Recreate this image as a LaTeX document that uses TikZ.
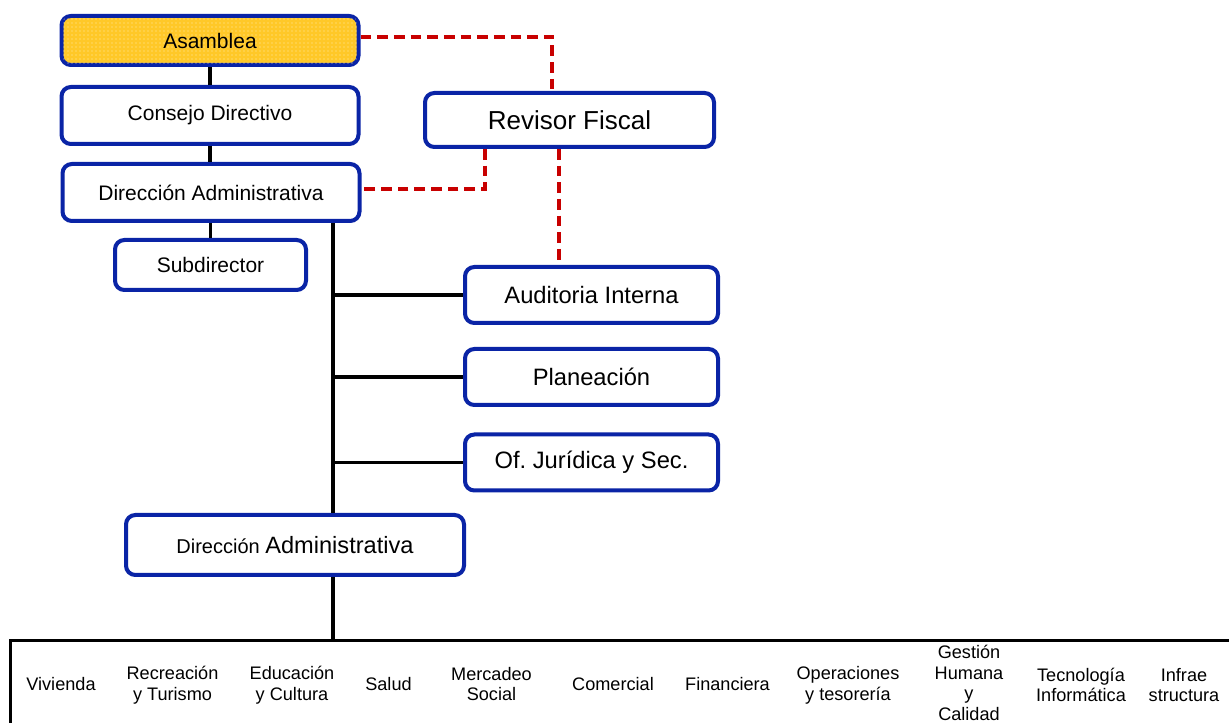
\documentclass[tikz,border=0pt]{standalone}
\usepackage{fontspec}
\setmainfont{Liberation Sans}
\usetikzlibrary{patterns,calc}

\definecolor{boxblue}{RGB}{10,36,166}
\definecolor{linkred}{RGB}{200,0,0}
\definecolor{asmyellow}{RGB}{255,200,40}
\definecolor{asmdot}{RGB}{255,236,170}

\tikzset{
  orgbox/.style={draw=boxblue, line width=3pt, rounded corners=7pt, fill=white,
    inner sep=0pt, align=center, font=\fontsize{15.75}{18}\selectfont},
  leftbox/.style={orgbox, minimum width=222.75pt, minimum height=42.75pt},
  rightbox/.style={orgbox, minimum width=189.75pt, minimum height=42pt,
    font=\fontsize{17.8}{20}\selectfont},
  solidlink/.style={draw=black, line width=2.9pt},
  redlink/.style={draw=linkred, line width=2.8pt, dash pattern=on 8pt off 4.5pt},
  unit/.style={align=center, inner sep=0pt, font=\fontsize{13.6}{15.6}\selectfont},
}

\begin{document}
\begin{tikzpicture}[x=0.75pt, y=-0.75pt]
\useasboundingbox (0,0) rectangle (1229,723);

% governance column
\node[leftbox, minimum height=36.75pt, fill=asmyellow,
      postaction={pattern=dots, pattern color=asmdot}] (asm) at (210,40.5) {Asamblea};
\node[leftbox] (cons) at (210,115.5) {Consejo Directivo};
\node[leftbox] (dira) at (211,192.5) {Dirección Administrativa};
\node[orgbox, minimum width=143.25pt, minimum height=37.5pt] (sub) at (210.5,265) {Subdirector};

% control bodies
\node[orgbox, minimum width=216.75pt, minimum height=40.5pt,
      font=\fontsize{19.5}{22}\selectfont] (rev) at (569.5,120) {Revisor Fiscal};
\node[rightbox] (aud) at (591.5,295) {Auditoria Interna};
\node[rightbox] (plan) at (591.5,377) {Planeación};
\node[rightbox] (ofj) at (591.5,462.5) {Of.\ Jurídica y Sec.};

% second management level
\node[orgbox, minimum width=253.5pt, minimum height=45pt] (dirb) at (295,545)
  {\fontsize{15}{18}\selectfont Dirección \fontsize{17.7}{20}\selectfont Administrativa};

% operating units row
\coordinate (units) at (333,640);
\begin{scope}
  \clip (0,0) rectangle (1229,723);
  \draw[line width=2.25pt] (10,740) -- (10,640) -- (1240,640);
\end{scope}
\node[unit] (u1) at (61,684) {Vivienda};
\node[unit] (u2) at (172.5,685) {Recreación\\y Turismo};
\node[unit] (u3) at (292,685) {Educación\\y Cultura};
\node[unit] (u4) at (388.5,684) {Salud};
\node[unit] (u5) at (491.5,684) {Mercadeo\\Social};
\node[unit] (u6) at (613,684) {Comercial};
\node[unit] (u7) at (727.5,684) {Financiera};
\node[unit] (u8) at (848,685) {Operaciones\\y tesorería};
\node[unit] (u9) at (969,683) {Gestión\\Humana\\y\\Calidad};
\node[unit] (u10) at (1081,685) {Tecnología\\Informática};
\node[unit] (u11) at (1184,685) {Infrae\\structura};

% hierarchy links
\draw[solidlink] (asm.south) -- (asm.south |- cons.north);
\draw[solidlink] (cons.south) -- (cons.south |- dira.north);
\draw[solidlink] (sub.north |- dira.south) -- (sub.north);
\draw[solidlink] (dira.south -| units) -- (dirb.north -| units);
\draw[solidlink] (dirb.south -| units) -- (units);
\draw[solidlink] (aud.west -| units) -- (aud.west);
\draw[solidlink] (plan.west -| units) -- (plan.west);
\draw[solidlink] (ofj.west -| units) -- (ofj.west);

% fiscal control links
\coordinate (revtop) at (552,91);
\coordinate (revleft) at (485,149);
\coordinate (revright) at (559,149);
\draw[redlink] ($(asm.east)+(0,-3.5)$) -| (revtop);
\draw[redlink] (revleft) |- ($(dira.east)+(0,-3.5)$);
\draw[redlink] (revright) -- (revright |- aud.north);
\end{tikzpicture}
\end{document}
